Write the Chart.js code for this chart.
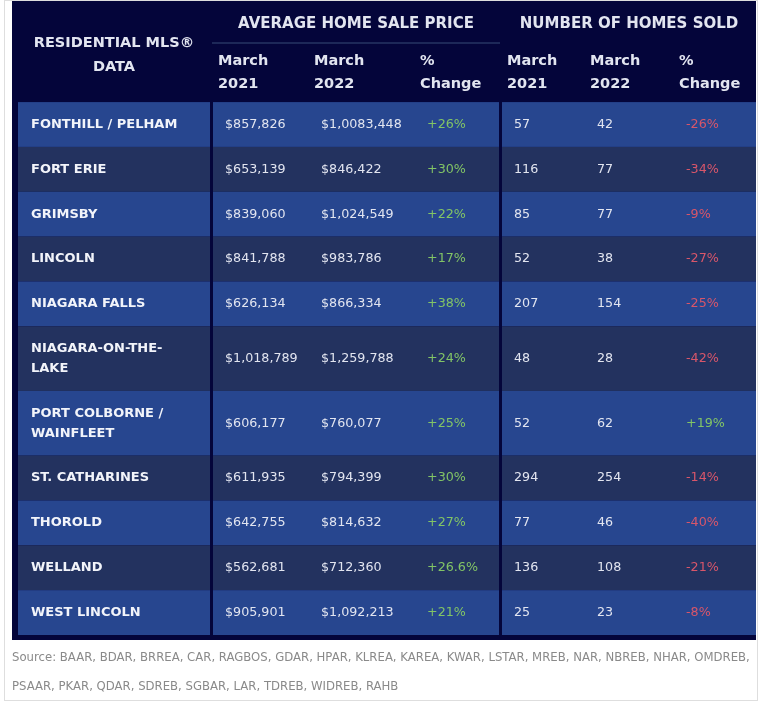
<!DOCTYPE html>
<html>
<head>
<meta charset="utf-8">
<title>Residential MLS Data</title>
<script src="https://cdn.jsdelivr.net/npm/chart.js@4/dist/chart.umd.min.js"></script>
<style>
  body { margin: 0; background: #fff; }
  #wrap { position: relative; width: 768px; height: 701px; }
  #frame { position: absolute; left: 4px; top: 0; width: 752px; height: 699px; border: 1px solid #dedede; }
  canvas { position: absolute; left: 0; top: 0; }
</style>
</head>
<body>
<div id="wrap">
  <div id="frame"></div>
  <canvas id="table-chart" width="768" height="701"></canvas>
</div>
<script>
// Table data
const regions = [
    ['FONTHILL / PELHAM'], ['FORT ERIE'], ['GRIMSBY'], ['LINCOLN'], ['NIAGARA FALLS'],
    ['NIAGARA-ON-THE-', 'LAKE'], ['PORT COLBORNE /', 'WAINFLEET'], ['ST. CATHARINES'],
    ['THOROLD'], ['WELLAND'], ['WEST LINCOLN']
];
const price2021 = ['$857,826', '$653,139', '$839,060', '$841,788', '$626,134', '$1,018,789',
    '$606,177', '$611,935', '$642,755', '$562,681', '$905,901'];
const price2022 = ['$1,0083,448', '$846,422', '$1,024,549', '$983,786', '$866,334', '$1,259,788',
    '$760,077', '$794,399', '$814,632', '$712,360', '$1,092,213'];
const priceChange = ['+26%', '+30%', '+22%', '+17%', '+38%', '+24%', '+25%', '+30%', '+27%', '+26.6%', '+21%'];
const sold2021 = [57, 116, 85, 52, 207, 48, 52, 294, 77, 136, 25];
const sold2022 = [42, 77, 77, 38, 154, 28, 62, 254, 46, 108, 23];
const soldChange = ['-26%', '-34%', '-9%', '-27%', '-25%', '-42%', '+19%', '-14%', '-40%', '-21%', '-8%'];

const cornerHeader = ['RESIDENTIAL MLS®', 'DATA'];
const groupHeaders = ['AVERAGE HOME SALE PRICE', 'NUMBER OF HOMES SOLD'];
const columnHeaders = [['March', '2021'], ['March', '2022'], ['%', 'Change']];
const sourceLines = [
    'Source: BAAR, BDAR, BRREA, CAR, RAGBOS, GDAR, HPAR, KLREA, KAREA, KWAR, LSTAR, MREB, NAR, NBREB, NHAR, OMDREB,',
    'PSAAR, PKAR, QDAR, SDREB, SGBAR, LAR, TDREB, WIDREB, RAHB'
];

// Layout: column widths and row heights, in scale units
const COLS = [
    { key: 'frame', w: 6 }, { key: 'name', w: 192 }, { key: 'div', w: 3 },
    { key: 'p21', w: 96 }, { key: 'p22', w: 106 }, { key: 'pchg', w: 84 }, { key: 'div', w: 3 },
    { key: 'h21', w: 83 }, { key: 'h22', w: 89 }, { key: 'hchg', w: 82 }
];
const HEADER_H = 101;
const ROW_H = 44.8;
const EXTRA_LINE_H = 19.8;
const BOTTOM_FRAME = 5;

let x0 = 0;
const colStart = {};
COLS.forEach(c => { c.start = x0; x0 += c.w; colStart[c.key] = c.start; });
const totalW = x0;

const rowTops = [];
let y0 = HEADER_H;
regions.forEach(r => { rowTops.push(y0); y0 += ROW_H + EXTRA_LINE_H * (r.length - 1); });
const rowsEnd = y0;
const totalH = rowsEnd + BOTTOM_FRAME;

const FONT = "'DejaVu Sans', sans-serif";
const NAVY = '#04053a';
const ROW_LIGHT = '#27468f';
const ROW_DARK = '#23325f';
const TEXT = '#e2e5f0';
const GREEN = '#82c466';
const RED = '#d8566a';

function changeColor(s) {
    return s.charAt(0) === '-' ? RED : GREEN;
}

const tablePlugin = {
    id: 'tableCells',
    beforeDatasetsDraw(chart) {
        const ctx = chart.ctx;
        const xs = chart.scales.x, ys = chart.scales.y;
        const X = v => xs.getPixelForValue(v);
        const Y = v => ys.getPixelForValue(v);

        ctx.save();
        // background frame
        ctx.fillStyle = NAVY;
        ctx.fillRect(X(0), Y(0), X(totalW) - X(0), Y(totalH) - Y(0));

        // row backgrounds, split by the divider columns
        const blocks = [['name', 'name'], ['p21', 'pchg'], ['h21', 'hchg']];
        regions.forEach((r, i) => {
            const top = rowTops[i];
            const bottom = i + 1 < rowTops.length ? rowTops[i + 1] : rowsEnd;
            ctx.fillStyle = i % 2 === 0 ? ROW_LIGHT : ROW_DARK;
            blocks.forEach(([a, b]) => {
                const cb = COLS.find(c => c.key === b);
                ctx.fillRect(X(colStart[a]), Y(top), X(cb.start + cb.w) - X(colStart[a]), Y(bottom) - Y(top));
            });
        });

        // header
        ctx.fillStyle = TEXT;
        ctx.textBaseline = 'middle';
        ctx.textAlign = 'center';
        ctx.font = 'bold 14.5px ' + FONT;
        const nameMid = colStart.name + 96;
        cornerHeader.forEach((t, k) => ctx.fillText(t, X(nameMid), Y(42 + k * 24)));

        ctx.font = 'bold 15px ' + FONT;
        const priceEnd = colStart.pchg + 84;
        const soldEnd = colStart.hchg + 82;
        ctx.fillText(groupHeaders[0], X((colStart.p21 + priceEnd) / 2), Y(23));
        ctx.fillText(groupHeaders[1], X((colStart.h21 + soldEnd) / 2), Y(23));

        ctx.strokeStyle = '#1d2858';
        ctx.lineWidth = 2;
        ctx.beginPath();
        ctx.moveTo(X(colStart.p21 - 1), Y(42));
        ctx.lineTo(X(priceEnd + 1), Y(42));
        ctx.stroke();

        ctx.textAlign = 'left';
        ctx.font = 'bold 14.5px ' + FONT;
        ['p21', 'p22', 'pchg', 'h21', 'h22', 'hchg'].forEach((key, k) => {
            const lines = columnHeaders[k % 3];
            lines.forEach((t, j) => ctx.fillText(t, X(colStart[key] + 5), Y(60 + j * 23)));
        });

        // body cells
        regions.forEach((r, i) => {
            const top = rowTops[i];
            const h = ROW_H + EXTRA_LINE_H * (r.length - 1);
            const mid = top + h / 2;

            ctx.fillStyle = '#f2f4fa';
            ctx.font = 'bold 13px ' + FONT;
            r.forEach((t, j) => {
                ctx.fillText(t, X(colStart.name + 13), Y(mid + (j - (r.length - 1) / 2) * 20));
            });

            ctx.font = '12.7px ' + FONT;
            const cells = [
                ['p21', price2021[i], TEXT], ['p22', price2022[i], TEXT],
                ['pchg', priceChange[i], changeColor(priceChange[i])],
                ['h21', String(sold2021[i]), TEXT], ['h22', String(sold2022[i]), TEXT],
                ['hchg', soldChange[i], changeColor(soldChange[i])]
            ];
            cells.forEach(([key, txt, col]) => {
                ctx.fillStyle = col;
                ctx.fillText(txt, X(colStart[key] + 12), Y(mid));
            });
        });
        ctx.restore();
    }
};

const ctx = document.getElementById('table-chart').getContext('2d');
const tableChart = new Chart(ctx, {
    type: 'scatter',
    data: { labels: regions, datasets: [] },
    options: {
        responsive: false,
        animation: false,
        layout: { padding: { left: 12, right: 12, top: 1, bottom: 0 } },
        scales: {
            x: { type: 'linear', display: false, offset: false, min: 0, max: totalW },
            y: { type: 'linear', display: false, offset: false, min: 0, max: totalH, reverse: true }
        },
        plugins: {
            legend: { display: false },
            tooltip: { enabled: false },
            title: {
                display: true,
                position: 'bottom',
                align: 'start',
                text: sourceLines,
                color: '#8a8a8a',
                font: { family: FONT, size: 11.7, weight: 'normal', lineHeight: 29 / 11.7 },
                padding: { top: 3, bottom: 0 }
            }
        }
    },
    plugins: [tablePlugin]
});
</script>
</body>
</html>
